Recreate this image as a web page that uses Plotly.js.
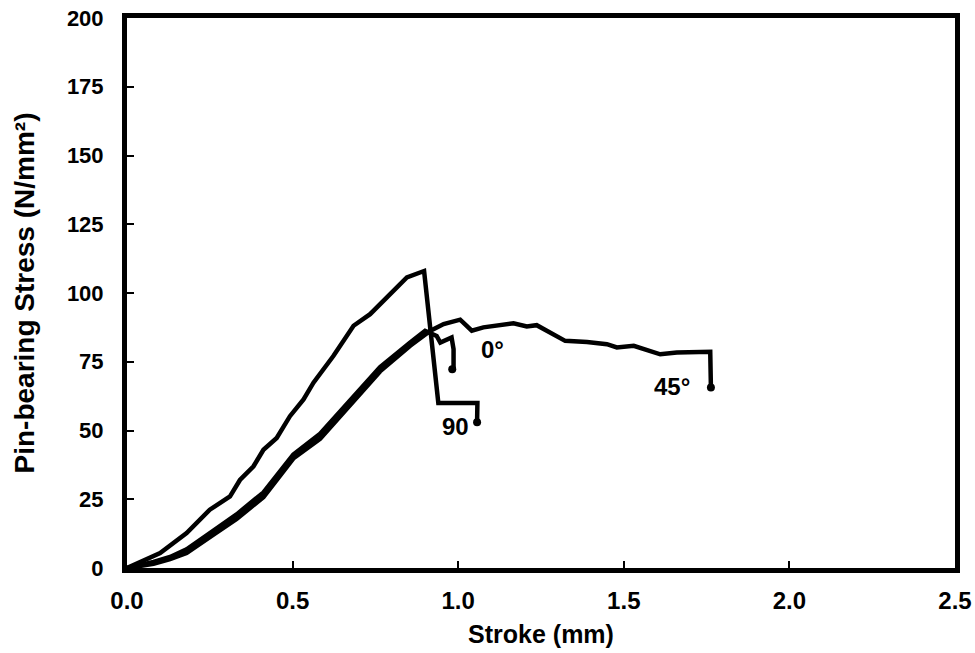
<!DOCTYPE html>
<html><head><meta charset="utf-8">
<script src="https://cdn.plot.ly/plotly-3.0.1.min.js"></script>
<style>html,body{margin:0;padding:0;background:#fff}</style>
</head><body>
<div id="chart" style="width:975px;height:653px"></div>
<script>
// 90 degree specimen
const x90 = [0, 0.10, 0.18, 0.25, 0.311, 0.341, 0.382, 0.412, 0.452, 0.492, 0.533, 0.563, 0.623, 0.684, 0.734, 0.784, 0.845, 0.897, 0.94, 1.058, 1.058, 1.057];
const y90 = [0, 5.4, 12.7, 21.2, 26, 32, 37, 43, 47.3, 55.2, 61.3, 67.4, 77.1, 88.1, 92.3, 98.4, 105.7, 108, 60, 60, 54, 53];
// 0 degree specimen
const x0 = [0, 0.08, 0.13, 0.18, 0.26, 0.331, 0.412, 0.502, 0.583, 0.664, 0.764, 0.855, 0.90, 0.935, 0.946, 0.98, 0.986, 0.986, 0.982];
const y0 = [0, 2.2, 4.0, 6.8, 13.5, 19.5, 27.5, 41.2, 48.8, 59.8, 73.0, 82.0, 86.2, 84.4, 82, 83.8, 79.6, 72.9, 72.3];
// 45 degree specimen
const x45 = [0, 0.08, 0.13, 0.18, 0.26, 0.331, 0.412, 0.502, 0.583, 0.664, 0.764, 0.855, 0.915, 0.956, 1.006, 1.041, 1.076, 1.167, 1.207, 1.237, 1.268, 1.323, 1.389, 1.449, 1.479, 1.530, 1.610, 1.660, 1.761, 1.763, 1.763, 1.763];
const y45 = [0, 1.5, 3.2, 5.5, 12.0, 17.8, 25.8, 39.8, 47.0, 58.0, 71.5, 80.8, 86.2, 88.7, 90.3, 86.3, 87.5, 89, 87.8, 88.3, 86.3, 82.6, 82.2, 81.4, 80.2, 80.8, 77.7, 78.4, 78.6, 71.6, 68, 65.6];
const labels = ["0°", "45°", "90"];
const labelX = [1.103, 1.647, 0.991];
const labelY = [79.6, 66, 51.5];

function endDot(n) { const s = new Array(n).fill(0); s[n - 1] = 8; return s; }
const line = {color: "#000", width: 4.5, shape: "linear"};
const mk = n => ({color: "#000", opacity: 1, size: endDot(n), line: {width: 0}});
const traces = [
  {x: x90, y: y90, mode: "lines+markers", line: line, marker: mk(x90.length), name: "90"},
  {x: x0, y: y0, mode: "lines+markers", line: line, marker: mk(x0.length), name: "0"},
  {x: x45, y: y45, mode: "lines+markers", line: line, marker: mk(x45.length), name: "45"}
];
const ff = "Arial, Liberation Sans, sans-serif";
const layout = {
  width: 975, height: 653,
  margin: {l: 127, r: 20, t: 18, b: 85},
  showlegend: false,
  paper_bgcolor: "#fff", plot_bgcolor: "#fff",
  xaxis: {
    range: [0, 2.5], tickvals: [0, 0.5, 1, 1.5, 2, 2.5], ticktext: ["0.0","0.5","1.0","1.5","2.0","2.5"],
    ticks: "inside", ticklen: 7, tickwidth: 2, tickcolor: "#000",
    showline: true, mirror: true, linewidth: 5, linecolor: "#000",
    showgrid: false, zeroline: false, ticklabelstandoff: 7,
    tickfont: {family: ff, size: 24, color: "#000", weight: "bold"},
    title: {text: "Stroke (mm)", font: {family: ff, size: 25, color: "#000", weight: "bold"}, standoff: 14}
  },
  yaxis: {
    range: [0, 200], tickvals: [0,25,50,75,100,125,150,175,200],
    ticks: "inside", ticklen: 7, tickwidth: 2, tickcolor: "#000",
    showline: true, mirror: true, linewidth: 5, linecolor: "#000",
    showgrid: false, zeroline: false, ticklabelstandoff: 14,
    tickfont: {family: ff, size: 22, color: "#000", weight: "bold"},
    title: {text: "Pin-bearing Stress (N/mm²)", font: {family: ff, size: 28, color: "#000", weight: "bold"}, standoff: 26}
  },
  annotations: labels.map((t, i) => ({x: labelX[i], y: labelY[i], text: t, showarrow: false,
    font: {family: ff, size: 24, color: "#000", weight: "bold"}}))
};
Plotly.newPlot("chart", traces, layout, {displayModeBar: false, staticPlot: true});
</script>
</body></html>
